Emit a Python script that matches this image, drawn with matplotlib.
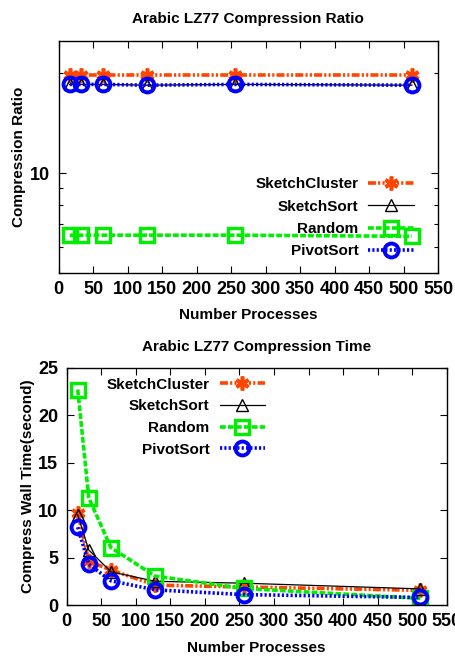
import matplotlib
matplotlib.use("Agg")
import matplotlib.pyplot as plt
from matplotlib.ticker import FixedLocator, NullFormatter, FixedFormatter

plt.rcParams['font.family'] = ['Liberation Sans', 'DejaVu Sans']
plt.rcParams['font.weight'] = 'bold'

procs = [16, 32, 64, 128, 256, 512]

# Compression ratio (top)
ratio_sketchcluster = [19.8, 19.8, 19.8, 19.8, 19.8, 19.8]
ratio_sketchsort = [18.5, 18.5, 18.5, 18.4, 18.5, 18.4]
ratio_random = [6.5, 6.5, 6.5, 6.5, 6.5, 6.45]
ratio_pivotsort = [18.5, 18.5, 18.5, 18.4, 18.5, 18.4]

# Compression time (bottom)
time_sketchcluster = [9.7, 4.6, 3.7, 2.1, 1.9, 1.55]
time_sketchsort = [9.5, 5.8, 3.5, 2.5, 2.3, 1.7]
time_random = [22.7, 11.3, 6.05, 3.05, 1.75, 0.7]
time_pivotsort = [8.2, 4.3, 2.55, 1.6, 1.1, 0.8]

names = ["SketchCluster", "SketchSort", "Random", "PivotSort"]

styles = [
    dict(color="#FF4500", lw=2.6, ls=(0, (2.2, 0.6, 0.6, 0.6, 0.6, 0.6)), marker=(6, 2, 0), ms=10, mew=2.6, mfc="none"),
    dict(color="black", lw=0.9, ls="-", marker="^", ms=8, mew=1.0, mfc="none"),
    dict(color="#00EE00", lw=2.6, ls=(0, (1.6, 0.6)), marker="s", ms=10, mew=2.4, mfc="none"),
    dict(color="#0000FF", lw=2.6, ls=(0, (0.6, 0.6)), marker="o", ms=10, mew=2.8, mfc="none"),
]

fig = plt.figure(figsize=(4.56, 6.58), dpi=100)
FS = 11
TFS = 13

# ---------- top ----------
ax1 = fig.add_axes([0.1287, 0.5851, 0.832, 0.3526])
for name, vals, st in zip(names, [ratio_sketchcluster, ratio_sketchsort, ratio_random, ratio_pivotsort], styles):
    ax1.plot(procs, vals, label=name, **st)
ax1.set_yscale('log')
ax1.set_ylim(5, 25)
ax1.set_xlim(0, 550)
ax1.yaxis.set_major_locator(FixedLocator([10]))
ax1.yaxis.set_major_formatter(FixedFormatter(["10"]))
ax1.yaxis.set_minor_locator(FixedLocator([5, 6, 7, 8, 9, 20]))
ax1.yaxis.set_minor_formatter(NullFormatter())
ax1.set_xticks(range(0, 551, 50))
ax1.set_title("Arabic LZ77 Compression Ratio", fontsize=FS, fontweight='bold', pad=13)
ax1.set_xlabel("Number Processes", fontsize=FS, fontweight='bold', labelpad=7)
ax1.set_ylabel("Compression Ratio", fontsize=FS, fontweight='bold', labelpad=3)
leg1 = ax1.legend(loc='lower right', bbox_to_anchor=(0.957, 0.03), frameon=False, markerfirst=False,
                  fontsize=FS, handlelength=3.0, handletextpad=0.65, labelspacing=0.55, borderpad=0)

# ---------- bottom ----------
ax2 = fig.add_axes([0.1462, 0.0805, 0.8334, 0.3607])
for name, vals, st in zip(names, [time_sketchcluster, time_sketchsort, time_random, time_pivotsort], styles):
    ax2.plot(procs, vals, label=name, **st)
ax2.set_ylim(0, 25)
ax2.set_xlim(0, 550)
ax2.set_xticks(range(0, 551, 50))
ax2.set_yticks(range(0, 26, 5))
ax2.set_title("Arabic LZ77 Compression Time", fontsize=FS, fontweight='bold', pad=12)
ax2.set_xlabel("Number Processes", fontsize=FS, fontweight='bold', labelpad=8)
ax2.set_ylabel("Compress Wall Time(second)", fontsize=FS, fontweight='bold', labelpad=2)
leg2 = ax2.legend(loc='upper right', bbox_to_anchor=(0.543, 0.99), frameon=False, markerfirst=False,
                  fontsize=FS, handlelength=3.0, handletextpad=0.65, labelspacing=0.5, borderpad=0)

for ax in (ax1, ax2):
    ax.tick_params(which='both', direction='in', top=True, right=True, labelsize=TFS, pad=6)
    ax.tick_params(which='major', length=5, width=0.8)
    ax.tick_params(which='minor', length=3, width=0.8)
    for s in ax.spines.values():
        s.set_linewidth(1.0)
    for t in ax.get_xticklabels() + ax.get_yticklabels():
        t.set_fontweight('bold')

fig.savefig("out.png", dpi=100)
